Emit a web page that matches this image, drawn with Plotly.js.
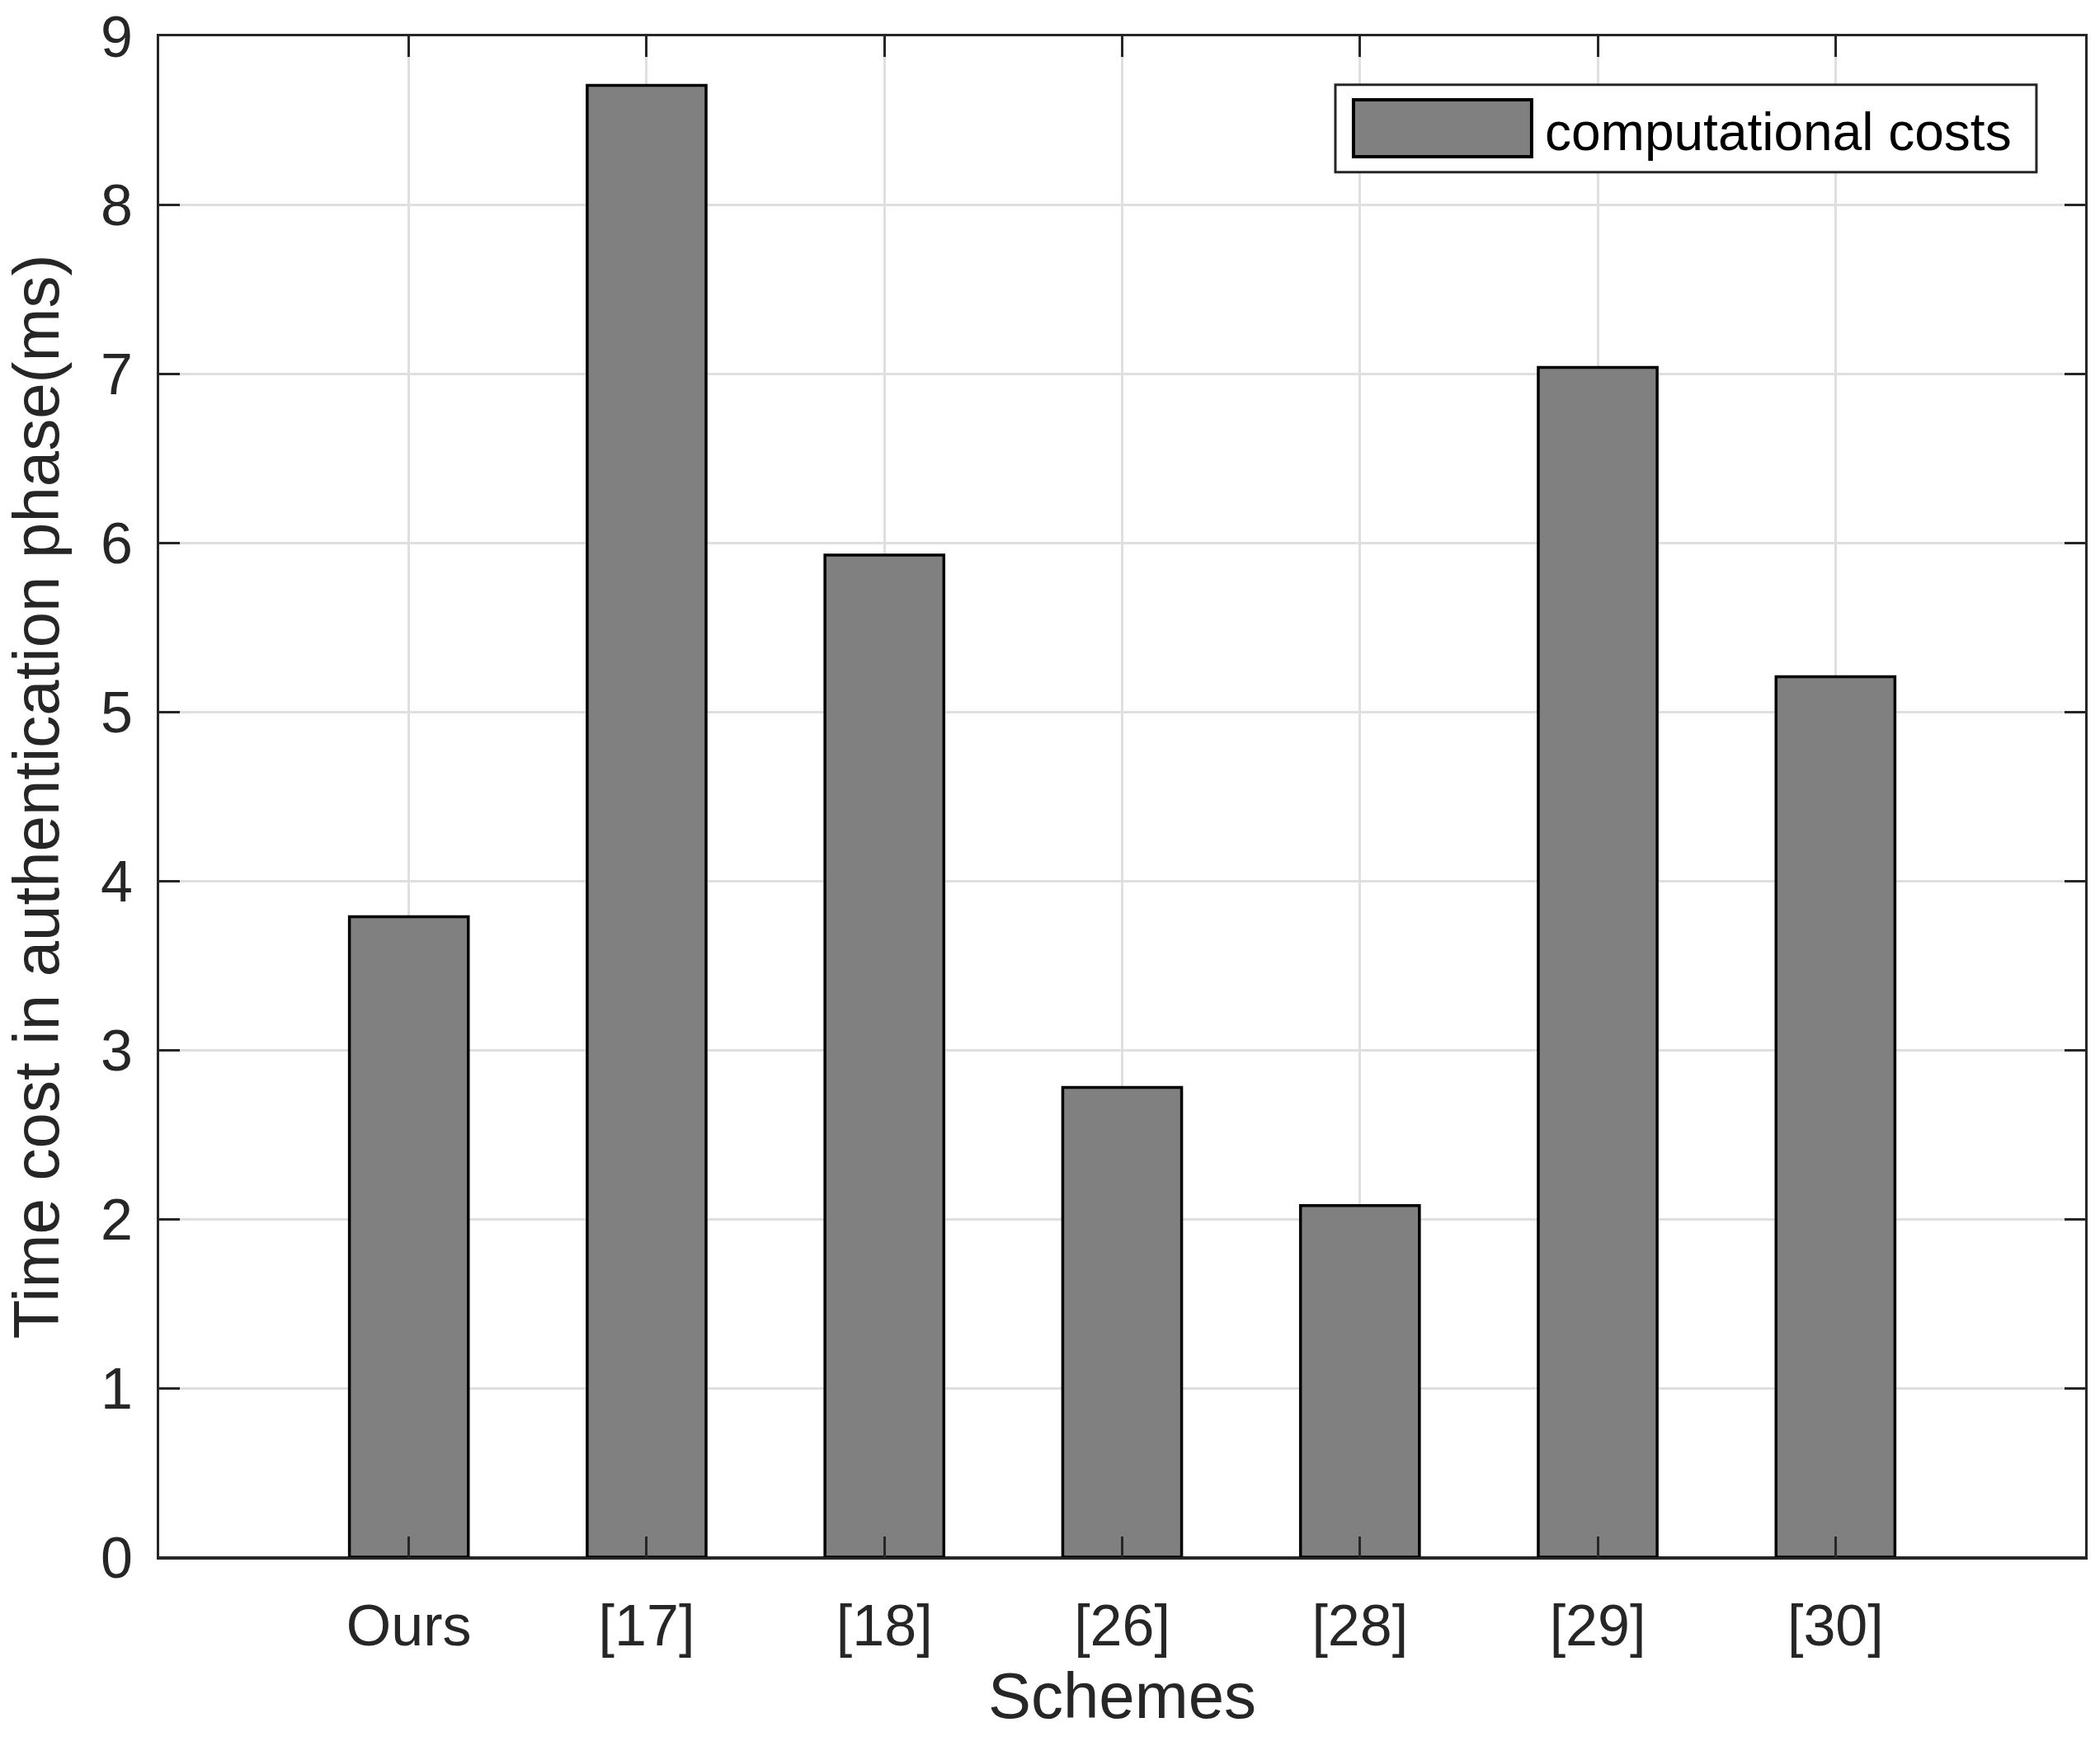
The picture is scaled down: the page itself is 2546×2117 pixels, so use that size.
<!DOCTYPE html>
<html>
<head>
<meta charset="utf-8">
<script src="https://cdn.plot.ly/plotly-3.0.1.min.js"></script>
<style>
  html, body { margin: 0; padding: 0; background: #fff; }
  #chart { width: 2546px; height: 2117px; }
</style>
</head>
<body>
<div id="chart"></div>
<script>
// data
const schemes = ['Ours', '[17]', '[18]', '[26]', '[28]', '[29]', '[30]'];
const schemePos = [1, 2, 3, 4, 5, 6, 7];
const timeCost = [3.79, 8.71, 5.93, 2.78, 2.08, 7.04, 5.21];
const seriesName = 'computational costs';
const yTicks = [0, 1, 2, 3, 4, 5, 6, 7, 8, 9];

const FONT = '"Liberation Sans", Arial, Helvetica, sans-serif';
const INK = '#262626';
const GRID = '#dfdfdf';
const BAR = '#808080';

const axisBase = {
    showline: true, linecolor: INK, linewidth: 3, mirror: 'allticks',
    ticks: 'inside', ticklen: 25, tickwidth: 3, tickcolor: INK,
    showgrid: true, gridcolor: GRID, gridwidth: 3,
    tickfont: { family: FONT, size: 70, color: INK },
    automargin: false,
};

Plotly.newPlot('chart', [{
    type: 'bar', name: seriesName,
    x: schemePos, y: timeCost, width: 0.5,
    marker: { color: BAR, line: { color: '#000', width: 3.5 } },
    showlegend: false,
}], {
    width: 2546, height: 2117,
    paper_bgcolor: '#fff', plot_bgcolor: '#fff',
    margin: { l: 193, r: 18, t: 44, b: 229 },
    font: { family: FONT, color: INK },
    xaxis: {
        ...axisBase,
        range: [-0.05, 8.05],
        tickmode: 'array', tickvals: schemePos, ticktext: schemes,
        ticklabelstandoff: 20,
        title: { text: 'Schemes', font: { family: FONT, size: 78, color: INK }, standoff: 20 },
        zeroline: false,
    },
    yaxis: {
        ...axisBase,
        range: [0, 9],
        tickmode: 'array', tickvals: yTicks,
        ticklabelstandoff: 15,
        title: { text: 'Time cost in authentication phase(ms)', font: { family: FONT, size: 78, color: INK }, standoff: 30 },
        zeroline: true, zerolinecolor: INK, zerolinewidth: 3,
    },
    // legend box drawn by hand so the patch can be as large as in the original
    shapes: [
        { type: 'rect', xref: 'paper', yref: 'paper', x0: 0.6107, x1: 0.9747, y0: 0.9107, y1: 0.9682,
          fillcolor: '#fff', line: { color: INK, width: 3 } },
        { type: 'rect', xref: 'paper', yref: 'paper', x0: 0.6201, x1: 0.7126, y0: 0.9208, y1: 0.9582,
          fillcolor: BAR, line: { color: '#000', width: 4 } },
    ],
    annotations: [
        { xref: 'paper', yref: 'paper', x: 0.7185, y: 0.9371, xanchor: 'left', yanchor: 'middle',
          text: seriesName, showarrow: false, font: { family: FONT, size: 64, color: '#000' } },
    ],
}, { displayModeBar: false, staticPlot: true });
</script>
</body>
</html>
